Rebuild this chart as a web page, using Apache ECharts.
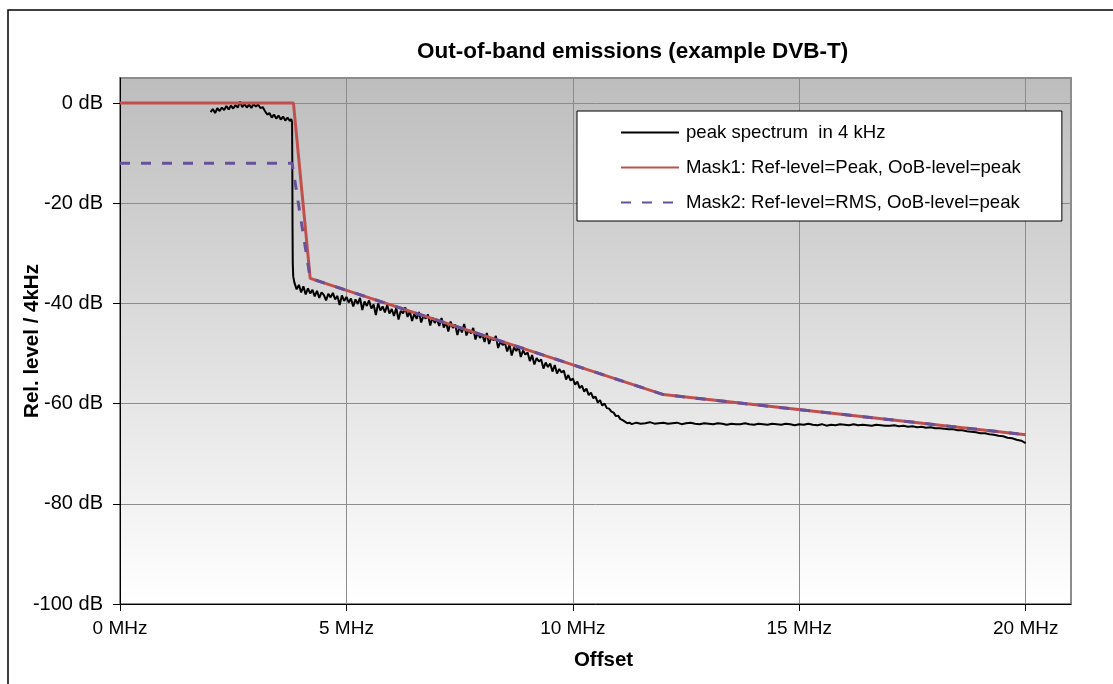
<!DOCTYPE html>
<html>
<head>
<meta charset="utf-8">
<script src="https://cdn.jsdelivr.net/npm/echarts@6/dist/echarts.min.js"></script>
<style>
html,body{margin:0;padding:0;background:#fff;}
#chart{width:1113px;height:684px;}
</style>
</head>
<body>
<div id="chart"></div>
<script>
// ---- data ----
var titleText = 'Out-of-band emissions (example DVB-T)';
var xName = 'Offset';
var yName = 'Rel. level / 4kHz';
var xTicks = [0, 5, 10, 15, 20];          // MHz
var yTicks = [-100, -80, -60, -40, -20, 0]; // dB
var seriesNames = ['peak spectrum  in 4 kHz', 'Mask1: Ref-level=Peak, OoB-level=peak', 'Mask2: Ref-level=RMS, OoB-level=peak'];

// Mask corner points [MHz, dB]
var mask1 = [[0, 0], [3.83, 0], [4.2, -35], [12, -58.2], [20, -66.2]];
var mask2 = [[0, -12], [3.8, -12], [4.2, -35], [12, -58.2], [20, -66.2]];

// measured peak spectrum [MHz, dB]
var spectrum = [
 [2.00,-1.8],[2.05,-1.2],[2.10,-2.0],[2.15,-1.0],[2.20,-1.6],[2.25,-0.9],[2.30,-1.4],[2.35,-0.6],[2.40,-1.3],[2.45,-0.5],
 [2.50,-1.1],[2.55,-0.4],[2.60,-0.9],[2.65,0.3],[2.70,-0.8],[2.75,-0.2],[2.80,-0.9],[2.85,-0.3],[2.90,-1.0],[2.95,-0.2],
 [3.00,-0.7],[3.05,-0.3],[3.10,-1.0],[3.15,-0.8],[3.20,-1.6],[3.25,-2.3],[3.30,-2.0],[3.35,-2.9],[3.40,-2.3],[3.45,-3.1],
 [3.50,-2.5],[3.55,-3.3],[3.60,-2.7],[3.65,-3.5],[3.70,-2.9],[3.75,-3.6],[3.78,-3.2],[3.80,-3.8],[3.805,-12],[3.81,-25],
 [3.815,-32],[3.825,-34.6],[3.85,-35.8],[3.90,-37.2],[3.95,-36.3],[4.00,-37.8],[4.05,-36.6],[4.10,-38.2],[4.15,-37.0],[4.20,-38.0],
 [4.25,-37.3],[4.30,-38.6],[4.35,-37.5],[4.40,-38.9],[4.45,-37.8],[4.50,-38.3],[4.55,-39.4],[4.60,-38.1],[4.65,-38.8],[4.70,-37.9],
 [4.75,-39.2],[4.80,-38.5],[4.85,-40.3],[4.90,-38.4],[4.95,-39.5],[5.00,-38.7],[5.05,-39.8],[5.10,-39.0],[5.15,-40.6],[5.20,-39.2],
 [5.25,-40.1],[5.30,-38.9],[5.35,-41.3],[5.40,-39.6],[5.45,-40.5],[5.50,-39.4],[5.55,-41.0],[5.60,-40.2],[5.65,-42.3],[5.70,-40.0],
 [5.75,-41.4],[5.80,-40.6],[5.85,-41.8],[5.90,-40.3],[5.95,-42.0],[6.00,-41.1],[6.05,-42.5],[6.10,-40.9],[6.15,-43.2],[6.20,-41.5],
 [6.25,-42.0],[6.30,-40.8],[6.35,-42.7],[6.40,-41.6],[6.45,-43.5],[6.50,-42.0],[6.55,-43.1],[6.60,-41.7],[6.65,-43.8],[6.70,-42.5],
 [6.75,-43.0],[6.80,-42.2],[6.85,-44.4],[6.90,-42.8],[6.95,-43.9],[7.00,-43.2],[7.05,-44.5],[7.10,-42.9],[7.15,-44.8],[7.20,-43.8],
 [7.25,-45.6],[7.30,-43.6],[7.35,-44.9],[7.40,-44.2],[7.45,-46.3],[7.50,-44.6],[7.55,-45.8],[7.60,-44.1],[7.65,-46.4],[7.70,-45.3],
 [7.75,-46.0],[7.80,-44.9],[7.85,-47.2],[7.90,-45.8],[7.95,-46.9],[8.00,-46.2],[8.05,-47.7],[8.10,-45.9],[8.15,-48.1],[8.20,-46.8],
 [8.25,-47.4],[8.30,-46.5],[8.35,-48.9],[8.40,-47.6],[8.45,-48.3],[8.50,-47.9],[8.55,-49.6],[8.60,-48.2],[8.65,-50.4],[8.70,-48.8],
 [8.75,-49.5],[8.80,-48.6],[8.85,-50.7],[8.90,-49.4],[8.95,-50.2],[9.00,-49.8],[9.05,-51.5],[9.10,-50.3],[9.15,-52.2],[9.20,-50.9],
 [9.25,-51.6],[9.30,-51.2],[9.35,-53.0],[9.40,-51.8],[9.45,-52.7],[9.50,-52.0],[9.55,-53.6],[9.60,-52.3],[9.65,-54.0],[9.70,-53.1],
 [9.75,-53.8],[9.80,-53.4],[9.85,-55.2],[9.90,-54.3],[9.95,-55.4],[10.00,-55.0],[10.05,-56.2],[10.10,-55.6],[10.15,-56.9],[10.20,-56.4],
 [10.25,-57.6],[10.30,-57.0],[10.35,-58.3],[10.40,-57.8],[10.45,-58.9],[10.50,-58.6],[10.55,-59.8],[10.60,-59.3],[10.65,-60.4],[10.70,-60.0],
 [10.75,-60.9],[10.80,-61.0],[10.85,-61.6],[10.90,-61.8],[10.95,-62.5],[11.00,-62.4],[11.05,-63.1],[11.10,-63.3],[11.15,-63.6],[11.20,-63.9],
 [11.25,-63.8],[11.30,-64.1],[11.4,-63.8],[11.5,-64.0],[11.6,-63.9],[11.7,-63.7],[11.8,-64.0],[11.9,-63.9],[12.0,-63.8],[12.1,-64.0],
 [12.2,-63.9],[12.3,-63.8],[12.4,-64.1],[12.5,-63.9],[12.6,-63.8],[12.7,-64.0],[12.8,-64.1],[12.9,-63.9],[13.0,-64.0],[13.1,-64.1],
 [13.2,-63.9],[13.3,-64.0],[13.4,-64.2],[13.5,-64.0],[13.6,-64.1],[13.7,-64.1],[13.8,-63.9],[13.9,-64.1],[14.0,-64.2],[14.1,-64.0],
 [14.2,-64.1],[14.3,-64.2],[14.4,-64.0],[14.5,-64.1],[14.6,-64.2],[14.7,-64.0],[14.8,-64.1],[14.9,-64.3],[15.0,-64.1],[15.1,-64.2],
 [15.2,-64.0],[15.3,-64.2],[15.4,-64.3],[15.5,-64.1],[15.6,-64.4],[15.7,-64.2],[15.8,-64.3],[15.9,-64.1],[16.0,-64.2],[16.1,-64.3],
 [16.2,-64.1],[16.3,-64.3],[16.4,-64.2],[16.5,-64.3],[16.6,-64.4],[16.7,-64.2],[16.8,-64.3],[16.9,-64.4],[17.0,-64.4],[17.1,-64.3],
 [17.2,-64.5],[17.3,-64.4],[17.4,-64.6],[17.5,-64.5],[17.6,-64.7],[17.7,-64.6],[17.8,-64.8],[17.9,-64.7],[18.0,-64.9],[18.1,-64.9],
 [18.2,-65.0],[18.3,-65.1],[18.4,-65.1],[18.5,-65.3],[18.6,-65.3],[18.7,-65.5],[18.8,-65.6],[18.9,-65.7],[19.0,-65.9],[19.1,-65.9],
 [19.2,-66.1],[19.3,-66.2],[19.4,-66.4],[19.5,-66.5],[19.6,-66.8],[19.7,-66.9],[19.8,-67.2],[19.9,-67.4],[20.0,-67.9]
];

// ---- chart ----
var FONT = '"Liberation Sans", Arial, sans-serif';
var chart = echarts.init(document.getElementById('chart'), null, {renderer: 'canvas'});
var option = {
  animation: false,
  backgroundColor: '#ffffff',
  textStyle: {fontFamily: FONT},
  graphic: [{
    type: 'rect', silent: true, z: -10,
    shape: {x: 8, y: 10, width: 1200, height: 800},
    style: {fill: 'none', stroke: '#000', lineWidth: 1.5}
  }],
  title: {
    text: titleText, left: 412, top: 35,
    textStyle: {fontFamily: FONT, fontSize: 22.5, fontWeight: 'bold', color: '#000'}
  },
  grid: {
    left: 120, right: 42, top: 78, bottom: 80,
    outerBoundsMode: 'none', containLabel: false,
    show: true, borderColor: '#8c8c8c', borderWidth: 2,
    backgroundColor: {type: 'linear', x: 0, y: 0, x2: 0, y2: 1,
      colorStops: [{offset: 0, color: '#bdbdbd'}, {offset: 1, color: '#ffffff'}]}
  },
  legend: {
    orient: 'vertical', left: 577, top: 111,
    data: seriesNames,
    backgroundColor: '#ffffff', borderColor: '#000', borderWidth: 1,
    padding: [12, 41, 9, 43],
    itemWidth: 58, itemHeight: 18, itemGap: 16,
    itemStyle: {opacity: 0},
    textStyle: {fontFamily: FONT, fontSize: 18.6, color: '#000', padding: [0, 0, 0, 2]}
  },
  xAxis: {
    type: 'value', min: 0, max: 21, interval: 5,
    name: xName, nameLocation: 'middle', nameGap: 46, nameMoveOverlap: false,
    nameTextStyle: {fontFamily: FONT, fontSize: 20.5, fontWeight: 'bold', color: '#000', padding: [0, 0, 0, 16]},
    axisLine: {show: true, onZero: false, lineStyle: {color: '#000', width: 1}},
    axisTick: {show: true, length: 7, lineStyle: {color: '#000'}, customValues: xTicks},
    axisLabel: {fontFamily: FONT, fontSize: 19, color: '#000', margin: 15, customValues: xTicks,
      formatter: function (v) { return v + ' MHz'; }},
    splitLine: {show: true, lineStyle: {color: '#8c8c8c', width: 1}}
  },
  yAxis: {
    type: 'value', min: -100, max: 5, interval: 20,
    name: yName, nameLocation: 'middle', nameGap: 77, nameRotate: 90, nameMoveOverlap: false,
    nameTextStyle: {fontFamily: FONT, fontSize: 20.5, fontWeight: 'bold', color: '#000'},
    axisLine: {show: true, onZero: false, lineStyle: {color: '#000', width: 1}},
    axisTick: {show: true, length: 7, lineStyle: {color: '#000'}, customValues: yTicks},
    axisLabel: {fontFamily: FONT, fontSize: 20, color: '#000', margin: 17, customValues: yTicks,
      formatter: function (v) { return v + ' dB'; }},
    splitLine: {show: true, lineStyle: {color: '#8c8c8c', width: 1}}
  },
  series: [
    {name: seriesNames[0], type: 'line', data: spectrum, symbol: 'none', z: 2,
      lineStyle: {color: '#000', width: 2}, itemStyle: {color: '#000'}},
    {name: seriesNames[1], type: 'line', data: mask1, symbol: 'none', z: 3,
      lineStyle: {color: '#c0504d', width: 3}, itemStyle: {color: '#c0504d'}},
    {name: seriesNames[2], type: 'line', data: mask2, symbol: 'none', z: 4,
      lineStyle: {color: '#66519a', width: 3, type: [10, 11]}, itemStyle: {color: '#66519a'}}
  ]
};
chart.setOption(option);
</script>
</body>
</html>
